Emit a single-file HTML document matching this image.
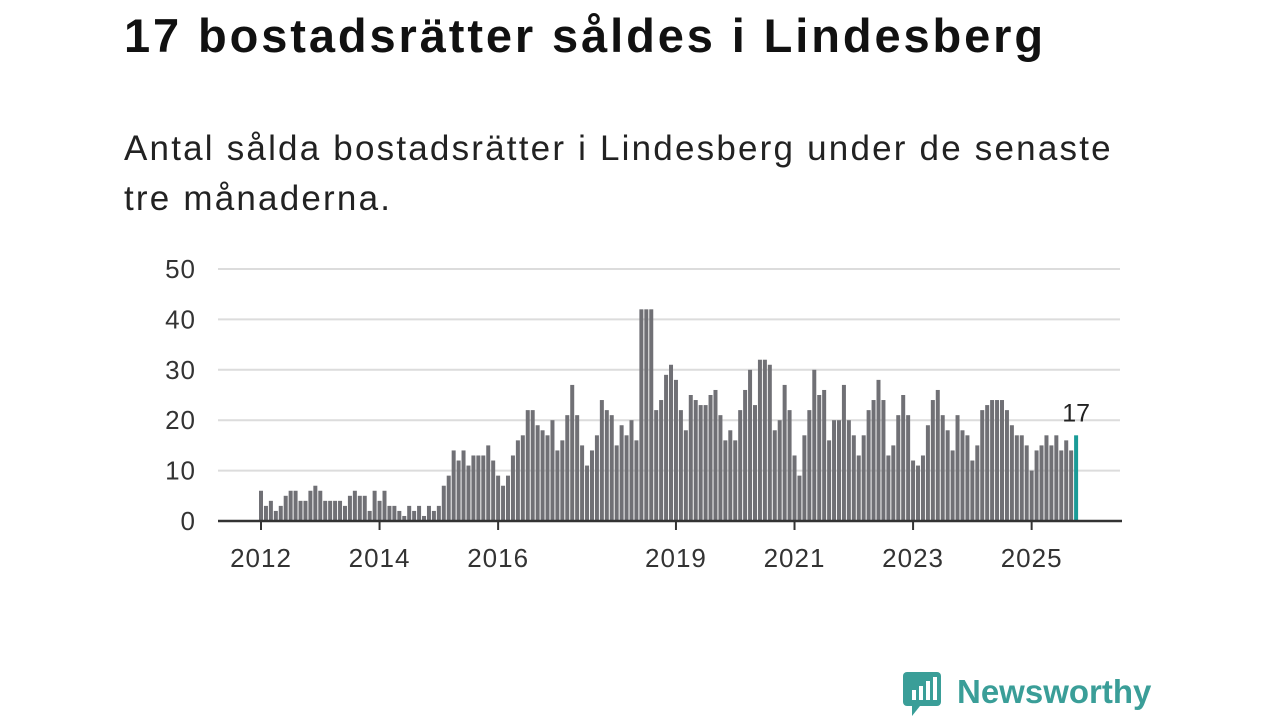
<!DOCTYPE html>
<html><head><meta charset="utf-8"><style>
body{margin:0;width:1280px;height:720px;background:#fff;font-family:"Liberation Sans",sans-serif;overflow:hidden;position:relative}
h1{position:absolute;left:124px;top:8px;margin:0;font-size:47px;font-weight:bold;color:#111;letter-spacing:2.9px}
.sub{position:absolute;left:124px;top:124px;margin:0;font-size:35px;line-height:50px;color:#222;width:1000px;letter-spacing:2.2px}
svg{position:absolute;left:0;top:0}
</style></head><body>
<h1>17 bostadsrätter såldes i Lindesberg</h1>
<p class="sub">Antal sålda bostadsrätter i Lindesberg under de senaste tre månaderna.</p>
<svg id="c" width="1280" height="720"></svg>
<script>
const values=[6,3,4,2,3,5,6,6,4,4,6,7,6,4,4,4,4,3,5,6,5,5,2,6,4,6,3,3,2,1,3,2,3,1,3,2,3,7,9,14,12,14,11,13,13,13,15,12,9,7,9,13,16,17,22,22,19,18,17,20,14,16,21,27,21,15,11,14,17,24,22,21,15,19,17,20,16,42,42,42,22,24,29,31,28,22,18,25,24,23,23,25,26,21,16,18,16,22,26,30,23,32,32,31,18,20,27,22,13,9,17,22,30,25,26,16,20,20,27,20,17,13,17,22,24,28,24,13,15,21,25,21,12,11,13,19,24,26,21,18,14,21,18,17,12,15,22,23,24,24,24,22,19,17,17,15,10,14,15,17,15,17,14,16,14,17];
const yTicks=[0,10,20,30,40,50];
const xTickYears=[2012,2014,2016,2019,2021,2023,2025];
const startYear=2012;
const NS="http://www.w3.org/2000/svg";
const svg=document.getElementById('c');
const y=v=>521-v*5.04;
const x=i=>261+i*4.94;
function mk(t,a){const e=document.createElementNS(NS,t);for(const k in a)e.setAttribute(k,a[k]);svg.appendChild(e);return e;}
yTicks.forEach(t=>{
  if(t>0){const l=mk('line',{x1:218,x2:1120,y1:y(t),y2:y(t),stroke:'#dcdcdc','stroke-width':2});
  
  }
  const tx=mk('text',{x:196,y:y(t)+9,'text-anchor':'end','font-size':26,fill:'#333','font-family':'Liberation Sans, sans-serif','letter-spacing':1});
  tx.textContent=t;
  
  
});
values.forEach((v,i)=>{
  const last=i===values.length-1;
  const r=mk('rect',{x:x(i)-2,y:y(v),width:4,height:521-y(v),fill:last?'#1a9b97':'#707075'});
  
  
});
const ax=mk('line',{x1:218,x2:1122,y1:521,y2:521,stroke:'#333','stroke-width':2.5});


xTickYears.forEach(yr=>{
  const px=x((yr-startYear)*12);
  const t=mk('line',{x1:px,x2:px,y1:521,y2:530,stroke:'#333','stroke-width':2});
  
  
  const tx=mk('text',{x:px,y:567,'text-anchor':'middle','font-size':26,fill:'#333','font-family':'Liberation Sans, sans-serif','letter-spacing':1});
  tx.textContent=yr;
  
  
});
const li=values.length-1;
const lab=mk('text',{x:x(li),y:y(values[li])-14,'text-anchor':'middle','font-size':25,fill:'#222','font-family':'Liberation Sans, sans-serif'});
lab.textContent=values[li];


</script>
<svg width="1280" height="720" style="pointer-events:none">
<rect x="903" y="672" width="38" height="34" rx="4" fill="#3a9e98"/>
<polygon points="912,706 920,706 912,716" fill="#3a9e98"/>
<rect x="912" y="690" width="4" height="10" fill="#fff"/><rect x="919" y="686" width="4" height="14" fill="#fff"/><rect x="926" y="681" width="4" height="19" fill="#fff"/><rect x="933" y="677" width="4" height="23" fill="#fff"/>
<text x="957" y="703" font-size="33" font-weight="bold" fill="#3a9e98" font-family="Liberation Sans, sans-serif">Newsworthy</text>
</svg>
</body></html>
